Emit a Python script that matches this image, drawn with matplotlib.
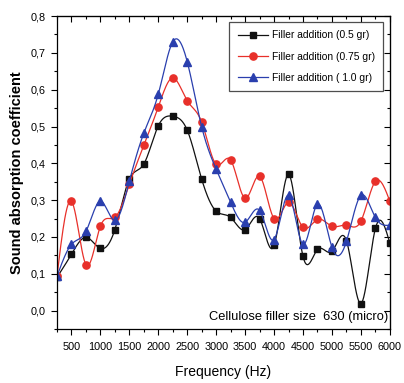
import numpy as np
import matplotlib.pyplot as plt
from matplotlib.ticker import MultipleLocator, FuncFormatter

plt.rcParams['font.family'] = ['Liberation Sans', 'DejaVu Sans']

# --- Data ---
freq = list(range(250, 6001, 250))

absorb_05 = [0.09, 0.153, 0.199, 0.169, 0.22, 0.357, 0.398, 0.502, 0.528, 0.49,
             0.357, 0.27, 0.253, 0.22, 0.25, 0.177, 0.37, 0.147, 0.166, 0.161,
             0.19, 0.019, 0.223, 0.183]
absorb_075 = [0.093, 0.297, 0.125, 0.229, 0.253, 0.343, 0.449, 0.553, 0.632, 0.57,
              0.512, 0.397, 0.409, 0.305, 0.365, 0.25, 0.294, 0.226, 0.248, 0.229,
              0.232, 0.243, 0.351, 0.297]
absorb_10 = [0.093, 0.18, 0.215, 0.297, 0.245, 0.351, 0.482, 0.588, 0.73, 0.676,
             0.499, 0.384, 0.294, 0.24, 0.272, 0.193, 0.313, 0.18, 0.289, 0.172,
             0.188, 0.313, 0.253, 0.232]

labels = ['Filler addition (0.5 gr)', 'Filler addition (0.75 gr)',
          'Filler addition ( 1.0 gr)']


def spline(x, y, n=600):
    """Natural cubic spline through the points, for a smooth line."""
    x = np.asarray(x, float)
    y = np.asarray(y, float)
    m = len(x)
    h = np.diff(x)
    A = np.zeros((m, m))
    b = np.zeros(m)
    A[0, 0] = A[-1, -1] = 1
    for i in range(1, m - 1):
        A[i, i - 1] = h[i - 1]
        A[i, i] = 2 * (h[i - 1] + h[i])
        A[i, i + 1] = h[i]
        b[i] = 6 * ((y[i + 1] - y[i]) / h[i] - (y[i] - y[i - 1]) / h[i - 1])
    M = np.linalg.solve(A, b)
    xs = np.linspace(x[0], x[-1], n)
    k = np.clip(np.searchsorted(x, xs) - 1, 0, m - 2)
    t1 = x[k + 1] - xs
    t0 = xs - x[k]
    hk = h[k]
    ys = (M[k] * t1**3 + M[k + 1] * t0**3) / (6 * hk) \
        + (y[k] / hk - M[k] * hk / 6) * t1 + (y[k + 1] / hk - M[k + 1] * hk / 6) * t0
    return xs, ys


fig = plt.figure(figsize=(4.04, 3.83), dpi=100)
ax = fig.add_axes([0.141, 0.141, 0.824, 0.817])

styles = [('#111111', 's', 4.6), ('#e8302a', 'o', 5.2), ('#2a3fae', '^', 5.6)]
for vals, lab, (col, mk, ms) in zip([absorb_05, absorb_075, absorb_10], labels, styles):
    xs, ys = spline(freq, vals)
    ax.plot(xs, ys, color=col, lw=0.9)
    ax.plot(freq, vals, ls='none', marker=mk, color=col, ms=ms)
    ax.plot([], [], color=col, lw=0.9, marker=mk, ms=ms, label=lab)

ax.set_xlim(250, 6000)
ax.set_ylim(-0.05, 0.8)
ax.xaxis.set_major_locator(MultipleLocator(500))
ax.xaxis.set_minor_locator(MultipleLocator(250))
ax.yaxis.set_major_locator(MultipleLocator(0.1))
ax.yaxis.set_minor_locator(MultipleLocator(0.05))
ax.yaxis.set_major_formatter(FuncFormatter(lambda v, p: f'{v:.1f}'.replace('.', ',')))
ax.tick_params(which='both', direction='out', labelsize=7.8, width=0.8)
ax.tick_params(which='major', length=4.5)
ax.tick_params(which='minor', length=2.5)
ax.tick_params(axis='x', pad=5)

# mirrored ticks on top and right, pointing inward
top = ax.secondary_xaxis('top')
right = ax.secondary_yaxis('right')
for sec, axis in ((top, top.xaxis), (right, right.yaxis)):
    loc = 500 if sec is top else 0.1
    axis.set_major_locator(MultipleLocator(loc))
    axis.set_minor_locator(MultipleLocator(loc / 2))
    sec.tick_params(which='both', direction='in', labelleft=False, labelright=False,
                    labeltop=False, labelbottom=False, width=0.8)
    sec.tick_params(which='major', length=4.5)
    sec.tick_params(which='minor', length=2.5)

for s in ax.spines.values():
    s.set_linewidth(0.9)

ax.set_xlabel('Frequency (Hz)', fontsize=10, labelpad=9)
ax.set_ylabel('Sound absorption coefficient', fontsize=10.5, fontweight='bold', labelpad=5)

ax.text(0.995, 0.02, 'Cellulose filler size  630 (micro)', transform=ax.transAxes,
        ha='right', va='bottom', fontsize=9.3)

leg = ax.legend(loc='upper right', handlelength=3.0, handletextpad=0.3, frameon=True,
                fancybox=False, edgecolor='#222222', borderpad=0.8, labelspacing=1.1,
                bbox_to_anchor=(0.979, 0.981), borderaxespad=0, prop={'size': 7.4})
leg.get_frame().set_linewidth(0.9)

fig.savefig('out.png', dpi=100)
